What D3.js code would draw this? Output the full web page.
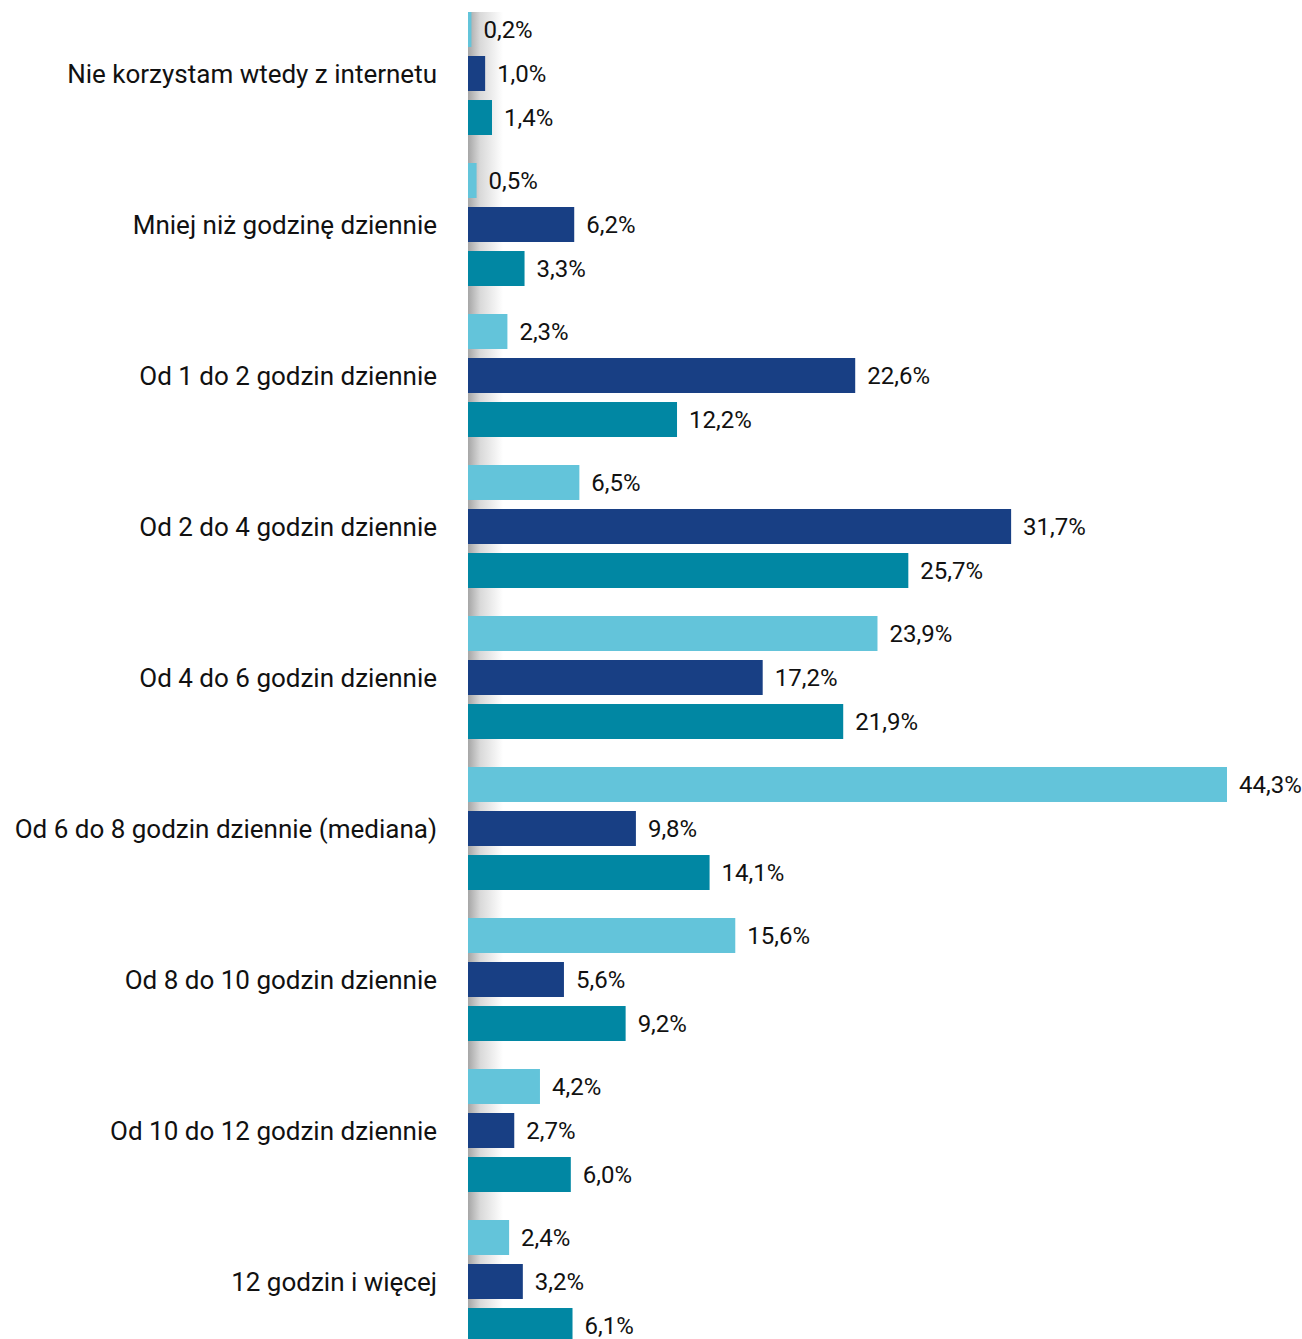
<!DOCTYPE html>
<html lang="pl">

<head>
  <meta charset="UTF-8">
  <title>Czas w internecie</title>
  <script src="https://d3js.org/d3.v7.min.js"></script>
  <style>
    body { margin: 0; background: #fff; }
    text { font-family: Roboto, "Noto Sans", sans-serif; fill: #111; }
  </style>
</head>

<body>
  <div id="container"></div>

  <script>
    var categories = [
      "Nie korzystam wtedy z internetu",
      "Mniej niż godzinę dziennie",
      "Od 1 do 2 godzin dziennie",
      "Od 2 do 4 godzin dziennie",
      "Od 4 do 6 godzin dziennie",
      "Od 6 do 8 godzin dziennie (mediana)",
      "Od 8 do 10 godzin dziennie",
      "Od 10 do 12 godzin dziennie",
      "12 godzin i więcej"
    ];
    var seriesA = [0.2, 0.5, 2.3, 6.5, 23.9, 44.3, 15.6, 4.2, 2.4];
    var seriesB = [1.0, 6.2, 22.6, 31.7, 17.2, 9.8, 5.6, 2.7, 3.2];
    var seriesC = [1.4, 3.3, 12.2, 25.7, 21.9, 14.1, 9.2, 6.0, 6.1];
    var seriesKeys = ["a", "b", "c"];
    var colors = { a: "#63c4da", b: "#183f84", c: "#0187a3" };

    var width = 1302,
      height = 1339,
      x0 = 468;

    var data = categories.map(function (c, i) {
      return { cat: c, a: seriesA[i], b: seriesB[i], c: seriesC[i] };
    });

    var svg = d3.select("#container")
      .append("svg")
      .attr("width", width)
      .attr("height", height);

    // gradient shadow along the axis
    var grad = svg.append("defs").append("linearGradient")
      .attr("id", "shade")
      .attr("x1", "0%").attr("x2", "100%");
    grad.append("stop").attr("offset", "0%").attr("stop-color", "#a6a6a6");
    grad.append("stop").attr("offset", "35%").attr("stop-color", "#d9d9d9");
    grad.append("stop").attr("offset", "100%").attr("stop-color", "#ffffff");

    var x = d3.scaleLinear().domain([0, 44.3]).range([x0, 1227]);

    var y0 = d3.scaleBand()
      .domain(categories)
      .range([-2, 1357])
      .paddingInner(28 / 151)
      .paddingOuter(14 / 151);

    var y1 = d3.scaleBand()
      .domain(seriesKeys)
      .range([0, y0.bandwidth()])
      .paddingInner(0.205);

    svg.append("rect")
      .attr("x", x0)
      .attr("y", y0(categories[0]))
      .attr("width", 35)
      .attr("height", height)
      .attr("fill", "url(#shade)");

    var groups = svg.selectAll(".group")
      .data(data)
      .enter()
      .append("g")
      .attr("class", "group")
      .attr("transform", function (d) { return "translate(0," + y0(d.cat) + ")"; });

    groups.selectAll("rect")
      .data(function (d) { return seriesKeys.map(function (k) { return { key: k, value: d[k] }; }); })
      .enter()
      .append("rect")
      .attr("x", x(0))
      .attr("y", function (d) { return y1(d.key); })
      .attr("width", function (d) { return x(d.value) - x(0); })
      .attr("height", y1.bandwidth())
      .attr("fill", function (d) { return colors[d.key]; });

    groups.selectAll(".val")
      .data(function (d) { return seriesKeys.map(function (k) { return { key: k, value: d[k] }; }); })
      .enter()
      .append("text")
      .attr("class", "val")
      .attr("x", function (d) { return x(d.value) + 12; })
      .attr("y", function (d) { return y1(d.key) + y1.bandwidth() / 2; })
      .attr("dy", "0.35em")
      .attr("font-size", 24)
      .text(function (d) { return d.value.toFixed(1).replace(".", ",") + "%"; });

    groups.append("text")
      .attr("x", 437)
      .attr("y", y0.bandwidth() / 2)
      .attr("dy", "0.35em")
      .attr("text-anchor", "end")
      .attr("font-size", 26)
      .text(function (d) { return d.cat; });
  </script>
</body>

</html>
